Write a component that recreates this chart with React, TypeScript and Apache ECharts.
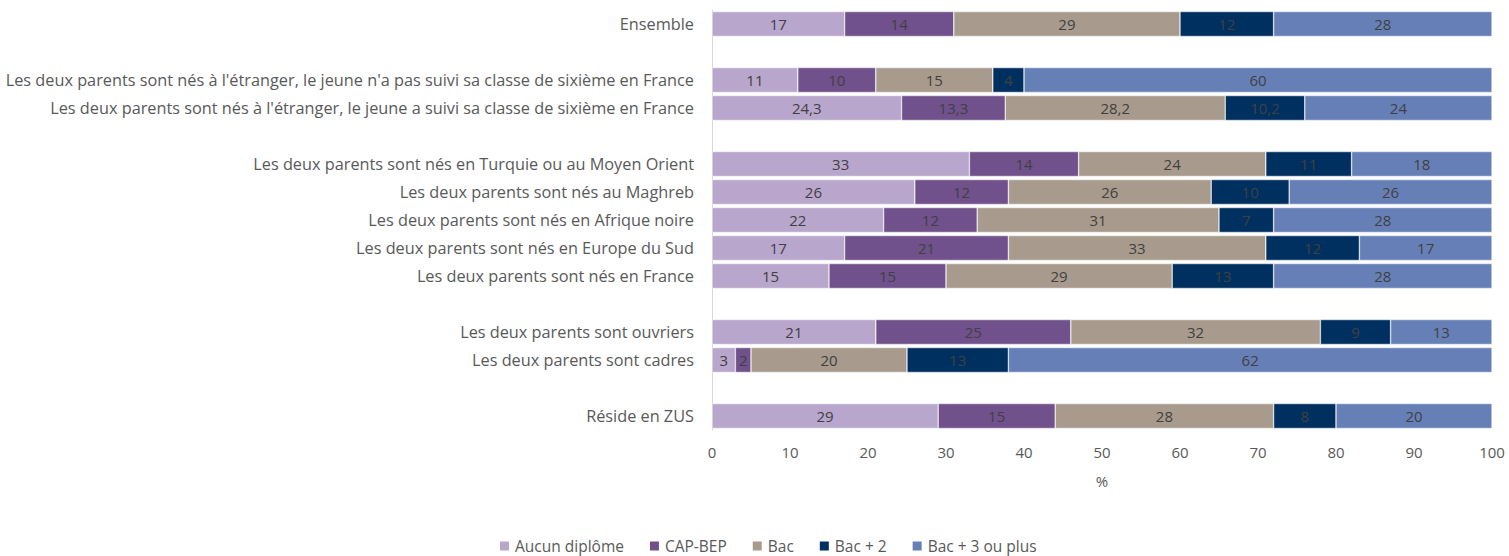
import React, { useEffect, useRef } from "react";
import * as echarts from "echarts";

const categories = [
  "Ensemble",
  "",
  "Les deux parents sont nés à l'étranger, le jeune n'a pas suivi sa classe de sixième en France",
  "Les deux parents sont nés à l'étranger, le jeune a suivi sa classe de sixième en France",
  " ",
  "Les deux parents sont nés en Turquie ou au Moyen Orient",
  "Les deux parents sont nés au Maghreb",
  "Les deux parents sont nés en Afrique noire",
  "Les deux parents sont nés en Europe du Sud",
  "Les deux parents sont nés en France",
  "  ",
  "Les deux parents sont ouvriers",
  "Les deux parents sont cadres",
  "   ",
  "Réside en ZUS",
];

const seriesNames = ["Aucun diplôme", "CAP-BEP", "Bac", "Bac + 2", "Bac + 3 ou plus"];
const colors = ["#B9A6CC", "#70518C", "#A89B8D", "#00305F", "#6680B7"];

const aucunDiplome = [17, null, 11, 24.3, null, 33, 26, 22, 17, 15, null, 21, 3, null, 29];
const capBep = [14, null, 10, 13.3, null, 14, 12, 12, 21, 15, null, 25, 2, null, 15];
const bac = [29, null, 15, 28.2, null, 24, 26, 31, 33, 29, null, 32, 20, null, 28];
const bac2 = [12, null, 4, 10.2, null, 11, 10, 7, 12, 13, null, 9, 13, null, 8];
const bac3 = [28, null, 60, 24, null, 18, 26, 28, 17, 28, null, 13, 62, null, 20];

const xTicks = [0, 10, 20, 30, 40, 50, 60, 70, 80, 90, 100];

const allData = [aucunDiplome, capBep, bac, bac2, bac3];
const FONT = "Open Sans";

export default function App() {
  const ref = useRef<HTMLDivElement>(null);
  useEffect(() => {
    document.body.style.margin = "0";
    const chart = echarts.init(ref.current!, undefined, { renderer: "svg" });
    chart.setOption({
      animation: false,
      textStyle: { fontFamily: FONT },
      grid: { left: 712, right: 17, top: 10, bottom: 126, containLabel: false },
      legend: {
        bottom: -3,
        left: 493,
        itemWidth: 11,
        itemHeight: 11,
        itemGap: 24,
        icon: "rect",
        textStyle: { color: "#595959", fontSize: 15.5, fontFamily: FONT },
        data: seriesNames,
      },
      xAxis: {
        type: "value",
        min: xTicks[0],
        max: xTicks[xTicks.length - 1],
        interval: 10,
        name: "%",
        nameLocation: "middle",
        nameGap: 43,
        nameTextStyle: { color: "#595959", fontSize: 15 },
        axisLine: { show: false },
        axisTick: { show: false },
        splitLine: { show: false },
        axisLabel: { color: "#595959", fontSize: 15, margin: 14 },
      },
      yAxis: {
        type: "category",
        inverse: true,
        data: categories,
        axisLine: { show: true, lineStyle: { color: "#D9D9D9", width: 1 } },
        axisTick: { show: false },
        axisLabel: { color: "#595959", fontSize: 16.3, margin: 18 },
      },
      series: seriesNames.map((name, i) => ({
        name,
        type: "bar",
        stack: "total",
        barCategoryGap: "11%",
        itemStyle: { color: colors[i], borderColor: "#ffffff", borderWidth: 0.5 },
        label: {
          show: true,
          position: "inside",
          color: "#404040",
          fontSize: 15,
          fontFamily: FONT,
          formatter: (p: any) => String(p.value).replace(".", ","),
        },
        data: allData[i].map((v) => (v === null ? "-" : v)),
      })),
    });
    return () => chart.dispose();
  }, []);
  return <div ref={ref} style={{ width: 1509, height: 556 }} />;
}
